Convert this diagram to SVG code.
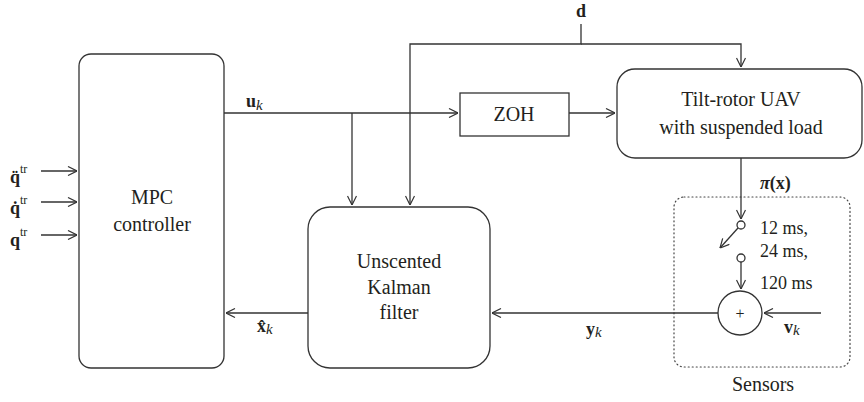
<svg xmlns="http://www.w3.org/2000/svg" width="864" height="402" viewBox="0 0 864 402" font-family="'Liberation Serif', 'DejaVu Serif', serif">
<style>
.box{fill:none;stroke:#333;stroke-width:1.3}
.ln{fill:none;stroke:#333;stroke-width:1.3}
.arr{marker-end:url(#ah)}
.t{font-family:'Liberation Serif','DejaVu Serif',serif;font-size:20px;fill:#231f20;text-anchor:middle}
.m{font-family:'Liberation Serif','DejaVu Serif',serif;font-size:18px;fill:#231f20}
.b{font-weight:bold}
.i{font-style:italic}
.sup{font-size:12px}
.dot{fill:none;stroke:#444;stroke-width:1.2;stroke-dasharray:1 3;stroke-linecap:round}
</style>
<defs>
<marker id="ah" viewBox="0 0 10 10" refX="10" refY="5" markerWidth="10" markerHeight="10" markerUnits="userSpaceOnUse" orient="auto">
<path d="M1,0.5 L10,5 L1,9.5" fill="none" stroke="#333" stroke-width="1.2"/>
</marker>
</defs>
<rect width="864" height="402" fill="#fff"/>

<g id="mpc">
<rect class="box" x="79" y="54" width="145" height="314" rx="12"/>
<text class="t" x="152" y="204">MPC</text>
<text class="t" x="152" y="231">controller</text>
</g>

<g id="zoh">
<rect class="box" x="460" y="93" width="109" height="43"/>
<text class="t" x="514" y="121">ZOH</text>
</g>

<g id="uav">
<rect class="box" x="617" y="69" width="245" height="89" rx="18"/>
<text class="t" x="741" y="106">Tilt-rotor UAV</text>
<text class="t" x="741" y="134">with suspended load</text>
</g>

<g id="ukf">
<rect class="box" x="308" y="207" width="182" height="161" rx="22"/>
<text class="t" x="399" y="268">Unscented</text>
<text class="t" x="399" y="294">Kalman</text>
<text class="t" x="399" y="319">filter</text>
</g>

<g id="sensors">
<rect class="dot" x="674" y="197" width="176" height="170" rx="10"/>
<text class="t" x="763" y="391">Sensors</text>
<circle class="ln" cx="741" cy="225" r="4"/>
<circle class="ln" cx="741" cy="258" r="4"/>
<circle class="ln" cx="740" cy="313" r="22"/>
<text class="t" x="740" y="319" style="font-size:16px">+</text>
<text class="m" x="760" y="234">12 ms,</text>
<text class="m" x="760" y="257">24 ms,</text>
<text class="m" x="760" y="289">120 ms</text>
</g>

<g id="connectors">
<line class="ln arr" x1="41" y1="171" x2="77" y2="171"/>
<line class="ln arr" x1="41" y1="202" x2="77" y2="202"/>
<line class="ln arr" x1="41" y1="235" x2="77" y2="235"/>
<line class="ln arr" x1="224" y1="113" x2="458" y2="113"/>
<line class="ln arr" x1="569" y1="113" x2="615" y2="113"/>
<line class="ln arr" x1="352" y1="113" x2="352" y2="205"/>
<polyline class="ln arr" points="581,24 581,44 410,44 410,205"/>
<polyline class="ln arr" points="581,44 741,44 741,67"/>
<line class="ln arr" x1="741" y1="158" x2="741" y2="219"/>
<line class="ln arr" x1="738" y1="228" x2="720" y2="248"/>
<line class="ln arr" x1="741" y1="262" x2="741" y2="289"/>
<line class="ln arr" x1="821" y1="313" x2="764" y2="313"/>
<line class="ln arr" x1="718" y1="313" x2="492" y2="313"/>
<line class="ln arr" x1="308" y1="313" x2="226" y2="313"/>
</g>

<g id="labels">
<text class="m b" x="10" y="183">q&#x308;<tspan class="sup" dy="-10" font-weight="normal">tr</tspan></text>
<text class="m b" x="10" y="214">q&#x307;<tspan class="sup" dy="-10" font-weight="normal">tr</tspan></text>
<text class="m b" x="10" y="246">q<tspan class="sup" dy="-10" font-weight="normal">tr</tspan></text>
<text class="m b" x="246" y="107">u<tspan class="i" font-weight="normal" dy="3" style="font-size:15px">k</tspan></text>
<text class="m b" x="576" y="17">d</text>
<text class="m b" x="760" y="189"><tspan class="i">π</tspan>(x)</text>
<text class="m b" x="586" y="335">y<tspan class="i" font-weight="normal" dy="2" style="font-size:15px">k</tspan></text>
<text class="m b" x="784" y="333">v<tspan class="i" font-weight="normal" dy="2" style="font-size:15px">k</tspan></text>
<text class="m b" x="257" y="332">x&#x302;<tspan class="i" font-weight="normal" dy="2" style="font-size:15px">k</tspan></text>
</g>
</svg>
